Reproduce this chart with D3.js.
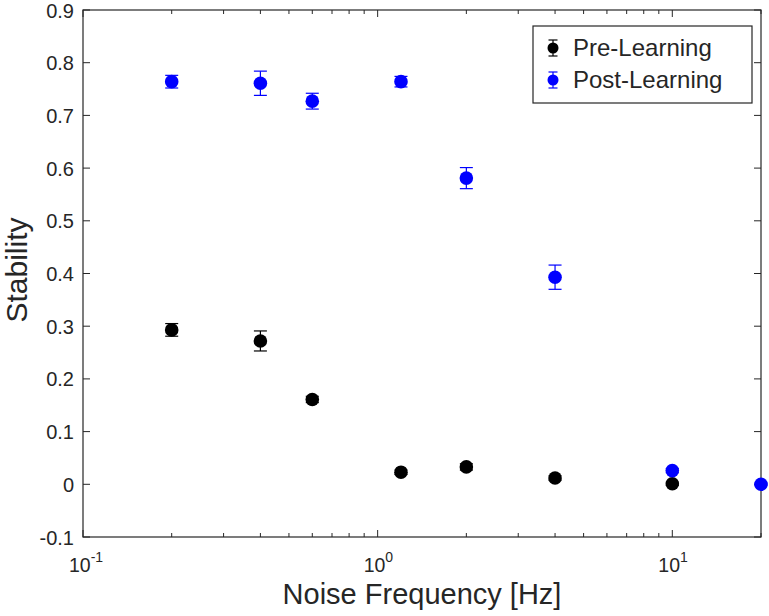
<!DOCTYPE html>
<html><head><meta charset="utf-8">
<script src="https://cdn.jsdelivr.net/npm/d3@7"></script>
<style>body{margin:0;background:#fff}svg{display:block}text{font-family:"Liberation Sans",Arial,Helvetica,sans-serif;fill:#262626}</style>
</head><body>
<svg id="c" width="769" height="616"></svg>
<script>
const freqs = [0.2, 0.4, 0.6, 1.2, 2, 4, 10, 20];
const preMean = [0.293, 0.272, 0.161, 0.023, 0.033, 0.012, 0.001, null];
const preErr  = [0.012, 0.019, 0.006, 0.004, 0.006, 0.004, 0.003, null];
const postMean = [0.764, 0.761, 0.727, 0.764, 0.581, 0.393, 0.026, 0.0];
const postErr  = [0.012, 0.023, 0.015, 0.010, 0.020, 0.023, 0.004, 0.002];
const yTicks = [-0.1, 0, 0.1, 0.2, 0.3, 0.4, 0.5, 0.6, 0.7, 0.8, 0.9];
const yTickLabels = ["-0.1", "0", "0.1", "0.2", "0.3", "0.4", "0.5", "0.6", "0.7", "0.8", "0.9"];
const xMajor = [0.1, 1, 10];
const xMajorLabels = ["-1", "0", "1"];
const seriesNames = ["Pre-Learning", "Post-Learning"];
const seriesColors = ["#000000", "#0000ff"];

const svg = d3.select("#c");
const L = 83, R = 761, T = 10, B = 537;
const x = d3.scaleLog().domain([0.1, 20]).range([L, R]);
const y = d3.scaleLinear().domain([-0.1, 0.9]).range([B, T]);
const axc = "#262626";

const minor = [];
[0.1, 1, 10].forEach(d => { for (let k = 2; k <= 9; k++) { const v = d * k; if (v <= 20) minor.push(v); } });

const g = svg.append("g");
minor.forEach(v => {
  g.append("line").attr("x1", x(v)).attr("x2", x(v)).attr("y1", B).attr("y2", B - 4).attr("stroke", axc);
  g.append("line").attr("x1", x(v)).attr("x2", x(v)).attr("y1", T).attr("y2", T + 4).attr("stroke", axc);
});
xMajor.forEach(v => {
  g.append("line").attr("x1", x(v)).attr("x2", x(v)).attr("y1", B).attr("y2", B - 7).attr("stroke", axc);
  g.append("line").attr("x1", x(v)).attr("x2", x(v)).attr("y1", T).attr("y2", T + 7).attr("stroke", axc);
});
yTicks.forEach((v, i) => {
  g.append("line").attr("x1", L).attr("x2", L + 7).attr("y1", y(v)).attr("y2", y(v)).attr("stroke", axc);
  g.append("line").attr("x1", R).attr("x2", R - 7).attr("y1", y(v)).attr("y2", y(v)).attr("stroke", axc);
  g.append("text").attr("x", L - 9).attr("y", y(v) + 7.5).attr("text-anchor", "end").attr("font-size", 20)
    .text(yTickLabels[i]);
});
xMajor.forEach((v, i) => {
  const t = g.append("text").attr("x", x(v) - 14).attr("y", 572).attr("font-size", 19.5);
  t.append("tspan").text("10");
  t.append("tspan").attr("dy", -10).attr("font-size", 14).text(xMajorLabels[i]);
});
g.append("rect").attr("x", L).attr("y", T).attr("width", R - L).attr("height", B - T)
  .attr("fill", "none").attr("stroke", axc).attr("stroke-width", 1.2);

svg.append("text").attr("x", 422).attr("y", 604).attr("text-anchor", "middle").attr("font-size", 29).text("Noise Frequency [Hz]");
svg.append("text").attr("transform", `translate(27,270) rotate(-90)`).attr("text-anchor", "middle").attr("font-size", 30).text("Stability");

const series = [
  { m: preMean, e: preErr, c: seriesColors[0] },
  { m: postMean, e: postErr, c: seriesColors[1] }
];
series.forEach(s => {
  const pts = freqs.map((f, i) => ({ f, m: s.m[i], e: s.e[i] })).filter(d => d.m !== null);
  const sg = svg.append("g");
  pts.forEach(d => {
    const cx = x(d.f), y1 = y(d.m + d.e), y0 = y(d.m - d.e);
    sg.append("line").attr("x1", cx).attr("x2", cx).attr("y1", y1).attr("y2", y0).attr("stroke", s.c).attr("stroke-width", 1.2);
    sg.append("line").attr("x1", cx - 6.5).attr("x2", cx + 6.5).attr("y1", y1).attr("y2", y1).attr("stroke", s.c).attr("stroke-width", 1.2);
    sg.append("line").attr("x1", cx - 6.5).attr("x2", cx + 6.5).attr("y1", y0).attr("y2", y0).attr("stroke", s.c).attr("stroke-width", 1.2);
    sg.append("circle").attr("cx", cx).attr("cy", y(d.m)).attr("r", 6.8).attr("fill", s.c);
  });
});

const lg = svg.append("g");
lg.append("rect").attr("x", 533).attr("y", 26).attr("width", 219).attr("height", 77).attr("fill", "#fff").attr("stroke", axc).attr("stroke-width", 1.2);
seriesNames.forEach((n, i) => {
  const cy = 48 + i * 32, cx = 553;
  const c = seriesColors[i];
  lg.append("line").attr("x1", cx).attr("x2", cx).attr("y1", cy - 8).attr("y2", cy + 8).attr("stroke", c).attr("stroke-width", 1.2);
  lg.append("line").attr("x1", cx - 4.5).attr("x2", cx + 4.5).attr("y1", cy - 8).attr("y2", cy - 8).attr("stroke", c).attr("stroke-width", 1.2);
  lg.append("line").attr("x1", cx - 4.5).attr("x2", cx + 4.5).attr("y1", cy + 8).attr("y2", cy + 8).attr("stroke", c).attr("stroke-width", 1.2);
  lg.append("circle").attr("cx", cx).attr("cy", cy).attr("r", 5.5).attr("fill", c);
  lg.append("text").attr("x", 573).attr("y", cy + 8).attr("font-size", 24).text(n);
});
</script>
</body></html>
